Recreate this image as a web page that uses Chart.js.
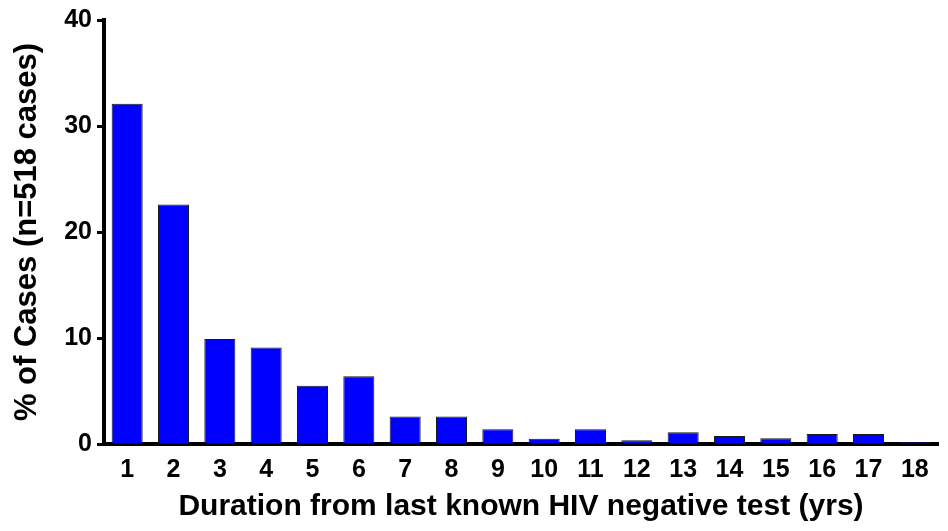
<!DOCTYPE html>
<html>
<head>
<meta charset="utf-8">
<script src="https://cdn.jsdelivr.net/npm/chart.js@4.4.0/dist/chart.umd.min.js"></script>
<style>
	body { margin: 0; background: #fff; }
	#wrap { width: 948px; height: 531px; position: relative; }
</style>
</head>
<body>
<div id="wrap"><canvas id="mycanvas"></canvas></div>
<script>
// duration (yrs) since last known HIV negative test
var durations = ['1','2','3','4','5','6','7','8','9','10','11','12','13','14','15','16','17','18'];
// % of cases
var pctCases = [32.1, 22.6, 9.9, 9.1, 5.5, 6.4, 2.6, 2.6, 1.4, 0.5, 1.4, 0.35, 1.1, 0.75, 0.55, 0.95, 0.95, 0.2];
var yMin = 0, yMax = 40, yStep = 10;

var font = "'Liberation Sans', Arial, sans-serif";

var chartdata = {
	labels: durations,
	datasets: [
		{
			label: "% of Cases",
			backgroundColor: "#0000ff",
			borderColor: "#1a1a1a",
			borderWidth: 1,
			borderSkipped: 'bottom',
			barPercentage: 0.67,
			categoryPercentage: 1.0,
			data: pctCases
		}
	]
};

var ctx = document.getElementById('mycanvas');

var BarGraph = new Chart(ctx, {
	type: 'bar',
	data: chartdata,
	options: {
		responsive: true,
		maintainAspectRatio: false,
		animation: false,
		layout: { padding: { top: 20, right: 10, left: 0, bottom: 0 } },
		plugins: {
			legend: { display: false },
			tooltip: { enabled: false }
		},
		scales: {
			x: {
				grid: { display: false, drawTicks: false },
				border: { display: true, color: '#000', width: 4 },
				ticks: { color: '#000', padding: 11, maxRotation: 0, autoSkip: false,
					font: { family: font, size: 25, weight: 'bold' } },
				title: {
					display: true,
					text: 'Duration from last known HIV negative test (yrs)',
					color: '#000',
					padding: { top: 0, bottom: 6 },
					font: { family: font, size: 30, weight: 'bold' }
				},
				afterFit: function(scale) { scale.height = 87; }
			},
			y: {
				min: yMin,
				max: yMax,
				grid: { drawOnChartArea: false, drawTicks: true, tickLength: 7, tickWidth: 3, tickColor: '#000' },
				border: { display: true, color: '#000', width: 4 },
				ticks: { stepSize: yStep, color: '#000', padding: 5,
					font: { family: font, size: 25, weight: 'bold' } },
				title: {
					display: true,
					text: '% of Cases (n=518 cases)',
					color: '#000',
					padding: { top: 9, bottom: 0 },
					font: { family: font, size: 31, weight: 'bold' }
				},
				afterFit: function(scale) { scale.width = 104; }
			}
		}
	}
});
</script>
</body>
</html>
